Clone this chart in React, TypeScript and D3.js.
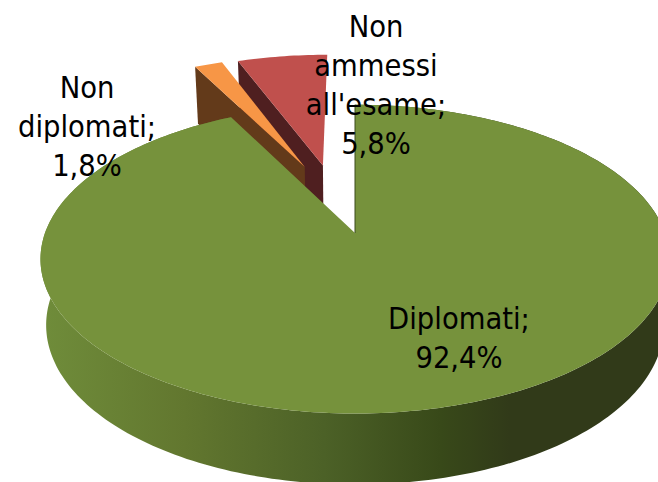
import React from "react";
import * as d3 from "d3";

const categories = ["Diplomati", "Non diplomati", "Non ammessi all'esame"];
const values = [92.4, 1.8, 5.8];
const topColors = ["#76923c", "#f79646", "#c0504d"];
const wallColors = ["#4f6228", "#633a1a", "#4f1f20"];
const labelLines = [
  ["Diplomati;", "92,4%"],
  ["Non", "diplomati;", "1,8%"],
  ["Non", "ammessi", "all'esame;", "5,8%"],
];
const labelAnchors = [
  { x: 459, y: 329 },
  { x: 87, y: 98 },
  { x: 376, y: 37 },
];
const explode = [
  { u: 0, v: 0 },
  { u: -0.175, v: 0.475 },
  { u: -0.112, v: 0.487 },
];

const W = 658, H = 482;
const ax = 355, ay = 233, rx = 310, ry = 150, k = 0.169;

type P = [number, number];
function top(u: number, v: number): P {
  const s = 1 / (1 + k * v);
  return [ax + rx * u * s, ay - ry * v * s];
}
function bottom(u: number, v: number): P {
  const [x, y] = top(u, v);
  return [ax + (x - ax) * 0.982, y + 65 - 6 * v];
}

const pie = d3.pie<number>().sort(null).value((d) => d);
const arcs = pie(values);
const lineGen = d3.line<P>();

function rimAngles(a0: number, a1: number) {
  const n = Math.max(2, Math.ceil((a1 - a0) / 0.02));
  return d3.range(n + 1).map((i) => a0 + ((a1 - a0) * i) / n);
}

export default function App() {
  const order = [2, 1, 0];
  return (
    <svg width={W} height={H} style={{ position: "absolute", left: 0, top: 0, background: "#fff" }}>
      <defs>
        <linearGradient id="wall" gradientUnits="userSpaceOnUse" x1={45} x2={510} y1={0} y2={0}>
          <stop offset="0" stopColor="#6f8c3a" />
          <stop offset="0.3" stopColor="#62772f" />
          <stop offset="0.6" stopColor="#4c6127" />
          <stop offset="0.85" stopColor="#384919" />
          <stop offset="1" stopColor="#313a19" />
        </linearGradient>
      </defs>
      {order.map((i) => {
        const a = arcs[i];
        const e = explode[i];
        const rim = rimAngles(a.startAngle, a.endAngle).map((t) => [Math.sin(t) + e.u, Math.cos(t) + e.v] as P);
        const topPath = lineGen([top(e.u, e.v), ...rim.map((p) => top(p[0], p[1]))]) + "Z";
        if (i === 0) {
          const wall = lineGen([
            ...rim.map((p) => top(p[0], p[1])),
            ...rim.slice().reverse().map((p) => bottom(p[0], p[1])),
          ]) + "Z";
          return (
            <g key={i}>
              <path d={wall} fill="url(#wall)" />
              <path d={topPath} fill={topColors[i]} />
              <line x1={ax} x2={ax} y1={top(0, 1)[1]} y2={ay} stroke="#3a4a1c" strokeWidth={1} />
            </g>
          );
        }
        const first = rim[0];
        const wall = lineGen([
          top(first[0], first[1]),
          top(e.u, e.v),
          bottom(e.u, e.v),
          bottom(first[0], first[1]),
        ]) + "Z";
        return (
          <g key={i}>
            <path d={wall} fill={wallColors[i]} />
            <path d={topPath} fill={topColors[i]} />
          </g>
        );
      })}
      {labelLines.map((lines, i) => (
        <text key={categories[i]} x={labelAnchors[i].x} y={labelAnchors[i].y} textAnchor="middle"
          fontFamily="'DejaVu Sans Condensed', 'DejaVu Sans', sans-serif" fontSize={30.5} fill="#000">
          {lines.map((l, j) => (
            <tspan key={j} x={labelAnchors[i].x} dy={j === 0 ? 0 : 39}>{l}</tspan>
          ))}
        </text>
      ))}
    </svg>
  );
}
